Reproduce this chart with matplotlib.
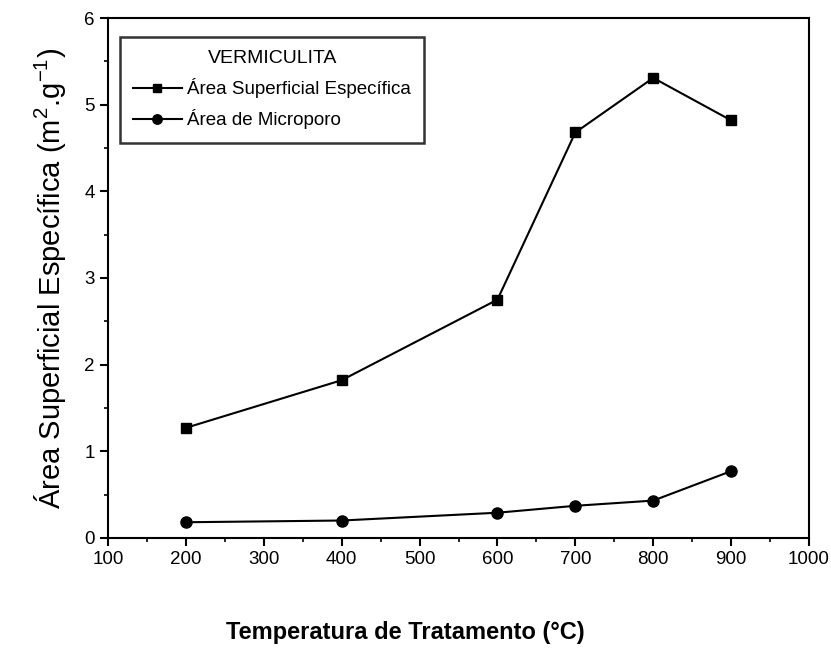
import matplotlib
matplotlib.use("Agg")
import matplotlib.pyplot as plt
from matplotlib.ticker import MultipleLocator

temps = [200, 400, 600, 700, 800, 900]
area_sup = [1.27, 1.82, 2.75, 4.68, 5.31, 4.82]
area_micro = [0.18, 0.20, 0.29, 0.37, 0.43, 0.77]
xticks = [100, 200, 300, 400, 500, 600, 700, 800, 900, 1000]
yticks = [0, 1, 2, 3, 4, 5, 6]

plt.rcParams['font.family'] = ['Liberation Sans', 'DejaVu Sans']
plt.rcParams['mathtext.fontset'] = 'custom'
plt.rcParams['mathtext.rm'] = 'Liberation Sans'
plt.rcParams['mathtext.it'] = 'Liberation Sans'

fig = plt.figure(figsize=(8.31, 6.48), dpi=100)
ax = fig.add_axes([0.130, 0.170, 0.8435, 0.802])

l1, = ax.plot(temps, area_sup, color='black', lw=1.5, marker='s', ms=7.5,
              label='Área Superficial Específica')
l2, = ax.plot(temps, area_micro, color='black', lw=1.5, marker='o', ms=8,
              label='Área de Microporo')

ax.set_xlim(100, 1000)
ax.set_ylim(0, 6)
ax.set_xticks(xticks)
ax.set_yticks(yticks)
ax.xaxis.set_minor_locator(MultipleLocator(50))
ax.yaxis.set_minor_locator(MultipleLocator(0.5))
ax.tick_params(which='major', direction='out', length=6, width=1.5, labelsize=13.5)
ax.tick_params(which='minor', direction='out', length=3, width=1.2)
for s in ax.spines.values():
    s.set_linewidth(1.5)

leg = ax.legend(loc='upper left', bbox_to_anchor=(0.017, 0.964),
                prop={'size': 13.5},
                title='VERMICULITA', title_fontproperties={'size': 14},
                frameon=True, fancybox=False, edgecolor='black', handlelength=2.6,
                borderpad=0.7, labelspacing=0.6, handletextpad=0.25, borderaxespad=0,
                markerscale=0.85)
leg.get_frame().set_linewidth(1.8)
leg._legend_box.align = "left"
leg.get_title().set_position((75, 0))

ax.set_ylabel('Área Superficial Específica (m$^{2}$.g$^{-1}$)', fontsize=21, labelpad=12)
fig.text(405/831, 1 - 632/648, 'Temperatura de Tratamento (°C)', fontsize=17,
         fontweight='bold', ha='center', va='center')

fig.savefig('out.png', dpi=100)
